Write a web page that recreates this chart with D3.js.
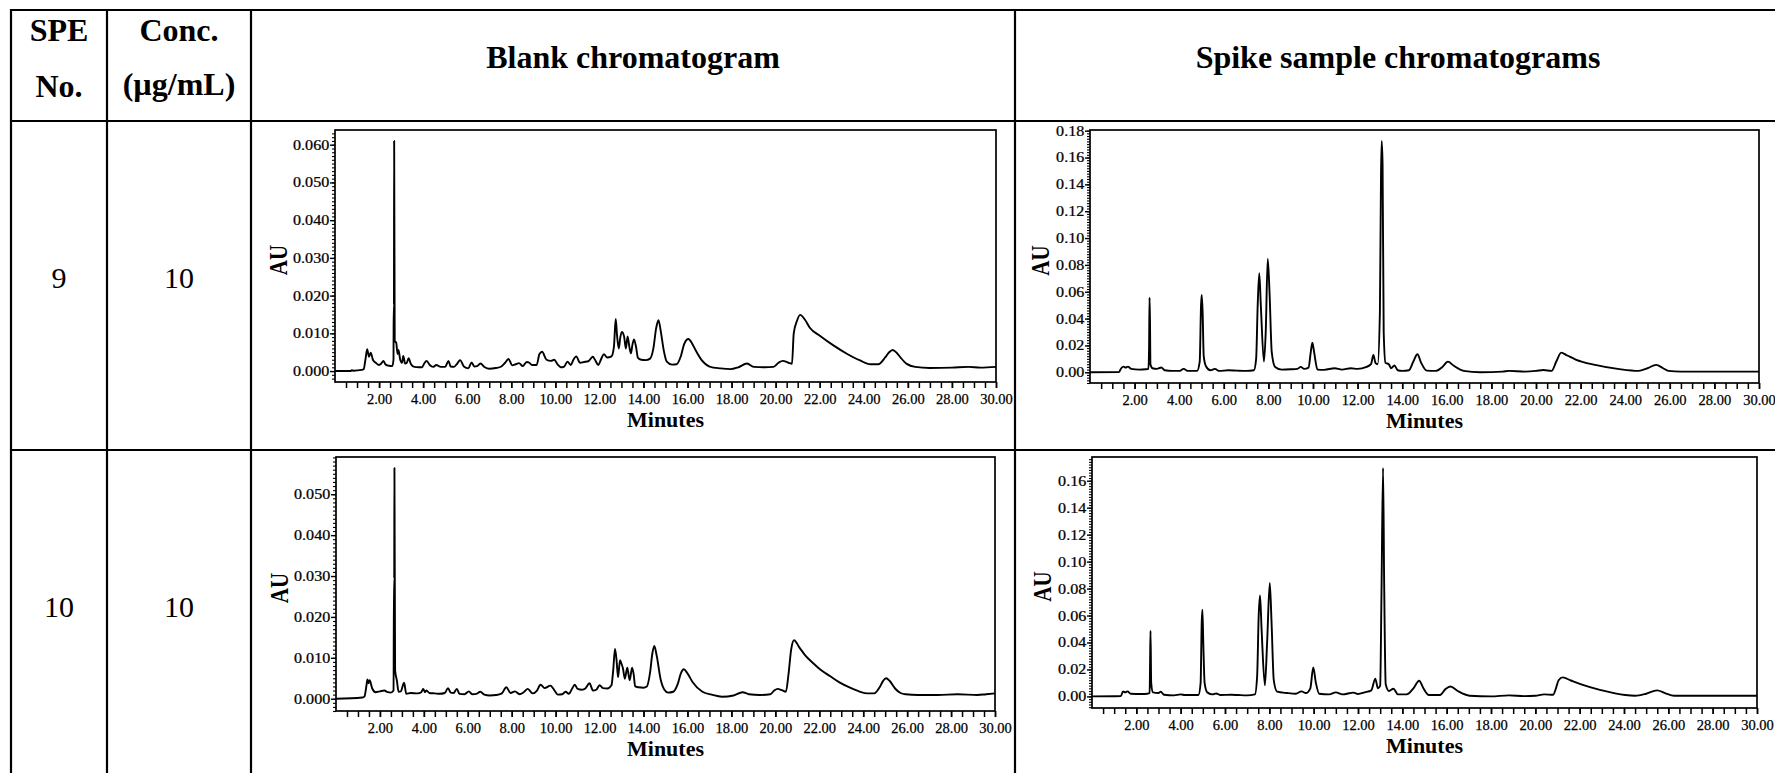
<!DOCTYPE html>
<html><head><meta charset="utf-8">
<script src="https://cdn.jsdelivr.net/npm/d3@7"></script>
<style>
body{margin:0;background:#fff;}
svg{display:block;font-family:"Liberation Serif","Times New Roman",serif;}
</style>
</head><body>
<svg id="c" width="1775" height="773"></svg>
<script>
// ---------------- DATA ----------------
const headerLeft = [["SPE","No."],["Conc.","(µg/mL)"]];
const columnTitles = ["Blank chromatogram","Spike sample chromatograms"];
const speNumbers = ["9","10"];
const concValues = ["10","10"];
const xLabelTicks = [2,4,6,8,10,12,14,16,18,20,22,24,26,28,30];
const blankYTicks9 = [0,0.01,0.02,0.03,0.04,0.05,0.06];
const blankYTicks10 = [0,0.01,0.02,0.03,0.04,0.05];
const spikeYTicks9 = [0,0.02,0.04,0.06,0.08,0.10,0.12,0.14,0.16,0.18];
const spikeYTicks10 = [0,0.02,0.04,0.06,0.08,0.10,0.12,0.14,0.16];

// [minutes, AU]
const blank9 = [[0,0],[0.7,0],[0.76,0.0002],[0.85,0.0001],[1.2,0.0003],[1.3,0.0005],[1.38,0.003],[1.46,0.0058],[1.54,0.0038],[1.62,0.0049],[1.72,0.003],[1.85,0.0022],[2.0,0.0016],[2.1,0.002],[2.2,0.0027],[2.3,0.0017],[2.45,0.0014],[2.6,0.0013],[2.655,0.003],[2.665,0.0175],[2.675,0.0175],[2.685,0.061],[2.71,0.008],[2.78,0.0075],[2.84,0.0045],[2.88,0.0056],[2.96,0.003],[3.04,0.0022],[3.1,0.004],[3.18,0.002],[3.26,0.0022],[3.34,0.0034],[3.45,0.0018],[3.6,0.0011],[3.8,0.001],[3.95,0.001],[4.05,0.002],[4.16,0.0027],[4.3,0.0016],[4.45,0.0011],[4.6,0.0016],[4.8,0.0011],[5.0,0.0011],[5.15,0.0027],[5.25,0.0012],[5.4,0.0011],[5.55,0.002],[5.68,0.0029],[5.85,0.0012],[6.05,0.0007],[6.2,0.0023],[6.32,0.0012],[6.45,0.0013],[6.6,0.002],[6.8,0.001],[7.0,0.0006],[7.3,0.0008],[7.55,0.0012],[7.72,0.0022],[7.87,0.0032],[8.05,0.0015],[8.2,0.0018],[8.35,0.0021],[8.52,0.0013],[8.7,0.0024],[8.82,0.0022],[8.95,0.0016],[9.15,0.0016],[9.28,0.0045],[9.4,0.0051],[9.6,0.003],[9.8,0.0027],[9.95,0.003],[10.1,0.0018],[10.25,0.001],[10.4,0.0012],[10.55,0.0025],[10.7,0.0016],[10.82,0.003],[10.95,0.0039],[11.12,0.0022],[11.3,0.0024],[11.5,0.0026],[11.7,0.0038],[11.8,0.003],[11.95,0.0016],[12.08,0.0032],[12.2,0.0045],[12.35,0.0036],[12.55,0.0039],[12.66,0.0065],[12.74,0.0138],[12.8,0.0095],[12.88,0.006],[12.95,0.009],[13.02,0.0104],[13.12,0.0092],[13.2,0.006],[13.28,0.0092],[13.36,0.0064],[13.43,0.0047],[13.5,0.007],[13.57,0.0084],[13.66,0.0065],[13.75,0.0035],[13.9,0.003],[14.1,0.0029],[14.3,0.0033],[14.45,0.006],[14.58,0.0115],[14.68,0.0135],[14.8,0.01],[14.92,0.0055],[15.06,0.0025],[15.3,0.0017],[15.5,0.0018],[15.7,0.004],[15.85,0.0072],[16.04,0.0085],[16.2,0.0074],[16.35,0.0057],[16.64,0.0029],[17.0,0.0012],[17.5,0.0007],[17.95,0.0005],[18.3,0.001],[18.7,0.002],[19.0,0.0011],[19.5,0.001],[19.9,0.0011],[20.13,0.0022],[20.32,0.0027],[20.58,0.0022],[20.74,0.0019],[20.82,0.01],[20.96,0.0132],[21.11,0.0149],[21.33,0.0136],[21.56,0.0114],[22.02,0.0093],[22.62,0.0068],[23.23,0.0046],[23.83,0.0028],[24.3,0.0018],[24.66,0.0018],[24.97,0.0036],[25.15,0.005],[25.31,0.0056],[25.5,0.0048],[25.68,0.0035],[25.95,0.0019],[26.33,0.0011],[27.0,0.0008],[28.0,0.0009],[28.75,0.0011],[29.3,0.0009],[30.0,0.0011]];

const blank10 = [[0,0],[1.2,0.0003],[1.3,0.0006],[1.38,0.003],[1.43,0.0047],[1.48,0.0038],[1.53,0.0045],[1.65,0.0025],[1.8,0.0016],[2.0,0.0018],[2.2,0.002],[2.35,0.0016],[2.5,0.0015],[2.62,0.002],[2.64,0.0294],[2.65,0.0294],[2.66,0.0564],[2.69,0.007],[2.77,0.0045],[2.85,0.0017],[2.95,0.0018],[3.1,0.0039],[3.2,0.0012],[3.4,0.0014],[3.72,0.0013],[3.88,0.0016],[3.97,0.0024],[4.05,0.0016],[4.12,0.002],[4.25,0.0014],[4.5,0.0013],[4.7,0.0012],[4.95,0.0014],[5.1,0.0026],[5.22,0.0015],[5.35,0.0014],[5.5,0.0024],[5.62,0.0012],[5.85,0.0011],[6.05,0.0018],[6.2,0.0011],[6.4,0.0012],[6.57,0.0017],[6.75,0.001],[7.0,0.0008],[7.3,0.0009],[7.55,0.0013],[7.75,0.0028],[7.95,0.0014],[8.15,0.0018],[8.35,0.0011],[8.55,0.0016],[8.73,0.0024],[8.95,0.0013],[9.15,0.002],[9.31,0.0034],[9.5,0.0026],[9.76,0.0032],[9.95,0.002],[10.1,0.001],[10.3,0.0011],[10.45,0.0017],[10.6,0.0012],[10.75,0.0025],[10.87,0.0034],[11.0,0.0024],[11.2,0.0022],[11.35,0.0025],[11.54,0.0038],[11.7,0.002],[11.85,0.0022],[12.0,0.0033],[12.15,0.0026],[12.35,0.0025],[12.54,0.0033],[12.62,0.007],[12.7,0.0122],[12.77,0.0095],[12.84,0.0053],[12.93,0.0094],[13.0,0.0085],[13.06,0.0075],[13.15,0.0049],[13.26,0.0076],[13.33,0.0055],[13.37,0.0045],[13.48,0.0076],[13.55,0.006],[13.62,0.003],[13.77,0.0028],[14.0,0.0027],[14.15,0.003],[14.3,0.0065],[14.4,0.011],[14.49,0.0129],[14.6,0.0105],[14.78,0.0047],[14.95,0.0022],[15.12,0.0015],[15.35,0.0017],[15.55,0.0035],[15.7,0.0062],[15.83,0.0072],[16.0,0.0062],[16.23,0.0041],[16.68,0.0017],[17.1,0.001],[17.57,0.0005],[18.1,0.0008],[18.5,0.0016],[18.8,0.0011],[19.3,0.0009],[19.77,0.0011],[19.95,0.002],[20.1,0.0024],[20.3,0.0021],[20.48,0.0017],[20.6,0.006],[20.72,0.012],[20.85,0.0143],[21.1,0.0125],[21.36,0.0106],[21.7,0.0088],[22.03,0.0072],[22.5,0.0055],[22.92,0.004],[23.4,0.0027],[23.81,0.0018],[24.2,0.0013],[24.5,0.0013],[24.75,0.0028],[24.9,0.0043],[25.04,0.005],[25.2,0.0044],[25.45,0.0025],[25.7,0.0014],[25.93,0.0011],[26.5,0.0009],[27.4,0.0009],[28.3,0.0011],[29.2,0.0009],[29.6,0.0011],[30.0,0.0013]];

const spike9 = [[0,0],[1.3,0.0002],[1.4,0.003],[1.5,0.0042],[1.6,0.0035],[1.7,0.0042],[1.85,0.0025],[2.2,0.002],[2.5,0.0022],[2.62,0.0025],[2.65,0.02],[2.67,0.0556],[2.69,0.038],[2.71,0.006],[2.8,0.003],[3.0,0.0025],[3.2,0.0035],[3.35,0.0015],[3.7,0.001],[4.0,0.001],[4.2,0.0025],[4.4,0.001],[4.8,0.001],[4.92,0.008],[4.98,0.05],[5.01,0.0576],[5.05,0.045],[5.1,0.012],[5.2,0.0045],[5.4,0.0015],[5.6,0.0025],[5.8,0.001],[6.2,0.0015],[6.6,0.0012],[7.0,0.001],[7.35,0.0015],[7.45,0.01],[7.52,0.05],[7.59,0.0738],[7.66,0.05],[7.8,0.0079],[7.88,0.03],[7.97,0.0844],[8.05,0.06],[8.15,0.015],[8.3,0.004],[8.6,0.002],[9.0,0.0022],[9.3,0.0025],[9.45,0.004],[9.6,0.0025],[9.8,0.0035],[9.9,0.015],[9.97,0.0221],[10.05,0.015],[10.2,0.002],[10.5,0.0018],[10.97,0.003],[11.3,0.002],[11.7,0.003],[12.0,0.0025],[12.4,0.004],[12.6,0.006],[12.71,0.0129],[12.8,0.007],[12.9,0.006],[13.0,0.045],[13.05,0.1476],[13.08,0.1723],[13.12,0.155],[13.17,0.03],[13.25,0.007],[13.4,0.006],[13.5,0.003],[13.65,0.005],[13.8,0.0015],[14.0,0.001],[14.3,0.0015],[14.5,0.008],[14.68,0.0134],[14.85,0.007],[15.1,0.0012],[15.5,0.001],[15.8,0.004],[16.05,0.0079],[16.3,0.005],[16.76,0.001],[17.5,0],[18.5,0.0005],[18.8,0.001],[19.5,0.0005],[20.0,0.001],[20.33,0.0017],[20.7,0.001],[20.91,0.008],[21.13,0.0146],[21.4,0.0125],[21.78,0.0095],[22.65,0.0055],[23.74,0.0023],[24.6,0.001],[25.0,0.003],[25.39,0.0055],[25.7,0.003],[25.94,0.001],[26.5,0.0005],[30.0,0.0005]];

const spike10 = [[0,0],[1.3,0.0003],[1.4,0.0037],[1.5,0.003],[1.6,0.0037],[1.75,0.002],[2.2,0.0018],[2.5,0.002],[2.6,0.0025],[2.62,0.025],[2.64,0.0487],[2.67,0.01],[2.75,0.003],[3.0,0.0025],[3.1,0.0035],[3.25,0.0012],[3.7,0.0008],[4.0,0.0015],[4.2,0.001],[4.8,0.001],[4.9,0.01],[4.95,0.055],[4.98,0.0643],[5.02,0.04],[5.08,0.01],[5.2,0.003],[5.45,0.0015],[5.6,0.0022],[5.8,0.001],[6.3,0.0012],[6.6,0.001],[7.0,0.0008],[7.35,0.0015],[7.45,0.015],[7.52,0.06],[7.58,0.0749],[7.65,0.05],[7.8,0.0082],[7.9,0.04],[8.02,0.0841],[8.1,0.055],[8.2,0.012],[8.35,0.0035],[8.8,0.0025],[9.2,0.002],[9.45,0.0037],[9.65,0.0025],[9.85,0.006],[9.98,0.0215],[10.1,0.01],[10.25,0.002],[10.7,0.0015],[11.0,0.003],[11.3,0.0015],[11.8,0.0028],[12.0,0.0018],[12.3,0.003],[12.6,0.0045],[12.78,0.0131],[12.9,0.006],[13.0,0.008],[13.06,0.077],[13.13,0.1694],[13.18,0.0845],[13.25,0.009],[13.4,0.004],[13.6,0.0057],[13.8,0.0015],[14.2,0.0015],[14.5,0.006],[14.76,0.0116],[14.95,0.006],[15.2,0.001],[15.7,0.001],[15.95,0.0055],[16.17,0.0074],[16.5,0.004],[17.03,0.0005],[18.0,0],[18.8,0.0008],[19.5,0.0002],[20.0,0.0005],[20.4,0.0015],[20.8,0.0012],[20.93,0.006],[21.05,0.012],[21.24,0.0141],[21.6,0.0118],[22.07,0.0089],[22.95,0.0047],[24.05,0.001],[24.5,0.0005],[25.0,0.002],[25.49,0.0045],[25.85,0.0025],[26.26,0.0005],[30.0,0.0005]];

// ---------------- LAYOUT ----------------
const svg = d3.select("#c");
const colEdges = [11,107,251,1015];
const rowEdges = [10,121,450];
const lineW = 2.2;

svg.append("g").selectAll("line").data(rowEdges).join("line")
  .attr("x1", colEdges[0]-1).attr("x2", 1780).attr("y1", d=>d).attr("y2", d=>d)
  .attr("stroke","#000").attr("stroke-width",lineW);
svg.append("g").selectAll("line").data(colEdges).join("line")
  .attr("x1", d=>d).attr("x2", d=>d).attr("y1", rowEdges[0]-1).attr("y2", 780)
  .attr("stroke","#000").attr("stroke-width",lineW);

const colCenters = [59,179];
headerLeft.forEach((pair,i)=>{
  svg.append("text").attr("x",colCenters[i]).attr("y",41).attr("text-anchor","middle")
    .attr("font-weight","bold").attr("font-size",32).text(pair[0]);
  svg.append("text").attr("x",colCenters[i]).attr("y",i===0?97:95).attr("text-anchor","middle")
    .attr("font-weight","bold").attr("font-size",32).text(pair[1]);
});
const titleCenters = [633,1398];
columnTitles.forEach((t,i)=>{
  svg.append("text").attr("x",titleCenters[i]).attr("y",68).attr("text-anchor","middle")
    .attr("font-weight","bold").attr("font-size",32).text(t);
});
const rowBaselines = [288,617];
speNumbers.forEach((t,i)=>{
  svg.append("text").attr("x",colCenters[0]).attr("y",rowBaselines[i]).attr("text-anchor","middle")
    .attr("font-size",30).text(t);
});
concValues.forEach((t,i)=>{
  svg.append("text").attr("x",colCenters[1]).attr("y",rowBaselines[i]).attr("text-anchor","middle")
    .attr("font-size",30).text(t);
});

// ---------------- CHARTS ----------------
function drawChart(data, box, ydom, majors, fmt, minorStep, auOffset){
  const g = svg.append("g");
  const x = d3.scaleLinear().domain([0,30]).range([box.l, box.r]);
  const y = d3.scaleLinear().domain(ydom).range([box.b, box.t]);

  const xMinor = d3.range(0.5, 30.001, 0.5);
  g.append("g").attr("transform",`translate(0,${box.b})`)
    .call(d3.axisBottom(x).tickValues(xMinor).tickSize(6).tickFormat(""))
    .call(s=>s.select(".domain").remove())
    .call(s=>s.selectAll("line").attr("stroke-width",1.5));
  g.append("g").attr("transform",`translate(0,${box.b})`)
    .call(d3.axisBottom(x).tickValues(xLabelTicks).tickSize(6).tickPadding(6).tickFormat(d3.format(".2f")))
    .call(s=>s.select(".domain").remove())
    .call(s=>s.selectAll("line").attr("stroke-width",1.5))
    .call(s=>s.selectAll("text").attr("font-size",14.5).attr("font-family","Liberation Serif").attr("fill","#000")
       .attr("stroke","#000").attr("stroke-width",0.25));

  const lo = Math.ceil(ydom[0]/minorStep), hi = Math.floor(ydom[1]/minorStep);
  const yMinor = d3.range(lo, hi+1).map(k=>k*minorStep);
  g.append("g").attr("transform",`translate(${box.l},0)`)
    .call(d3.axisLeft(y).tickValues(yMinor).tickSize(3).tickFormat(""))
    .call(s=>s.select(".domain").remove())
    .call(s=>s.selectAll("line").attr("stroke-width",1.1));
  g.append("g").attr("transform",`translate(${box.l},0)`)
    .call(d3.axisLeft(y).tickValues(majors).tickSize(5).tickPadding(0).tickFormat(d3.format(fmt)))
    .call(s=>s.select(".domain").remove())
    .call(s=>s.selectAll("line").attr("stroke-width",1.4))
    .call(s=>s.selectAll("text").attr("font-size",14).attr("font-family","Liberation Serif").attr("fill","#000")
       .attr("stroke","#000").attr("stroke-width",0.25).attr("transform","scale(1.15,1)"));

  g.append("rect").attr("x",box.l).attr("y",box.t).attr("width",box.r-box.l).attr("height",box.b-box.t)
    .attr("fill","none").attr("stroke","#000").attr("stroke-width",1.7);

  const line = d3.line().x(d=>x(d[0])).y(d=>y(d[1])).curve(d3.curveMonotoneX);
  g.append("path").datum(data).attr("d",line).attr("fill","none")
    .attr("stroke","#000").attr("stroke-width",1.9).attr("stroke-linejoin","round");

  const cy = (box.t+box.b)/2 + 4;
  g.append("text").attr("transform",`translate(${box.l-auOffset},${cy}) scale(1.15,1) rotate(-90)`)
    .attr("text-anchor","middle").attr("dy","0.35em").attr("font-weight","bold").attr("font-size",21).text("AU");
  g.append("text").attr("x",(box.l+box.r)/2).attr("y",box.b+45).attr("text-anchor","middle")
    .attr("font-weight","bold").attr("font-size",22).text("Minutes");
}

drawChart(blank9,  {l:335,r:996,t:130,b:382}, [-0.0029,0.0639], blankYTicks9, ".3f", 0.001, 56);
drawChart(spike9,  {l:1090,r:1759,t:130,b:383}, [-0.008,0.1805], spikeYTicks9, ".2f", 0.002, 49);
drawChart(blank10, {l:336,r:995,t:457,b:711}, [-0.0030,0.0591], blankYTicks10, ".3f", 0.001, 56);
drawChart(spike10, {l:1092,r:1757,t:457,b:708}, [-0.0086,0.1776], spikeYTicks10, ".2f", 0.002, 49);
</script>
</body></html>
